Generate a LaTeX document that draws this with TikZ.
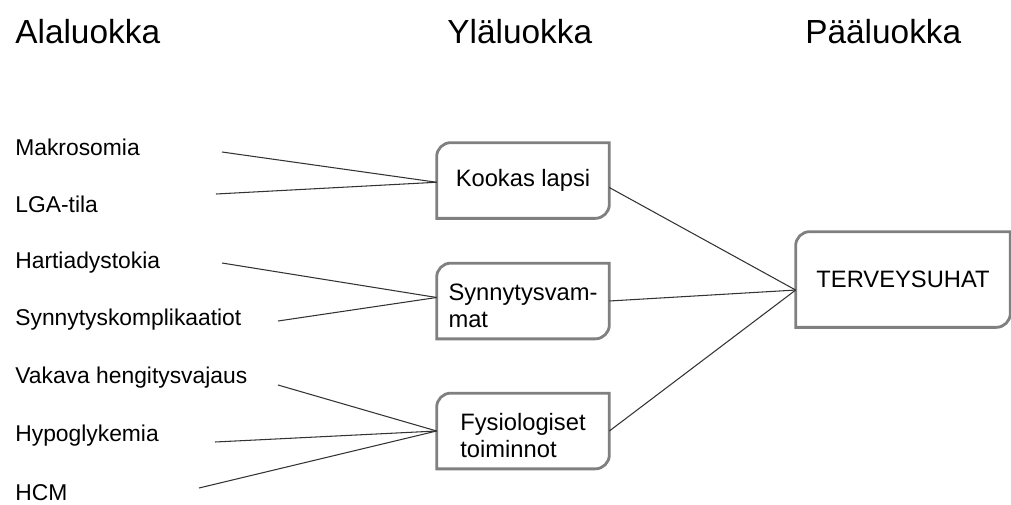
\documentclass[tikz,border=0pt]{standalone}
\usepackage{fontspec}
\setmainfont{Liberation Sans}
\usetikzlibrary{calc}
\definecolor{boxgray}{RGB}{128,128,128}
\tikzset{
  header/.style={anchor=west,inner sep=0pt,font=\fontsize{19}{23}\selectfont},
  item/.style={anchor=west,inner sep=0pt,font=\fontsize{13}{15}\selectfont},
  catbox/.style={inner sep=0pt,align=left,minimum width=3.44cm,minimum height=1.5cm,
    font=\fontsize{13.5}{15}\selectfont},
  boxline/.style={draw=boxgray,line width=1.6pt},
  link/.style={draw=black!80,line width=0.6pt}
}
% box outline: rounded top left and bottom right corners
\newcommand{\diagbox}[1]{%
  \draw[boxline] (#1.north east) -- ([xshift=8pt]#1.north west)
    arc[start angle=90,end angle=180,radius=8pt] -- (#1.south west)
    -- ([xshift=-8pt]#1.south east)
    arc[start angle=270,end angle=360,radius=8pt] -- cycle;}
% two-line text, a bit below the middle
\newcommand{\twolines}[2]{\raisebox{-8pt}[0pt][0pt]{\begin{tabular}{@{}l@{}}#1\\#2\end{tabular}}}

\begin{document}
\begin{tikzpicture}[x=0.02cm,y=-0.02cm]
  \useasboundingbox (0,0) rectangle (1011,504);

  % otsikot
  \node[header] (hala) at (15,32) {Alaluokka};
  \node[header] (hyla) at (447,32) {Yläluokka};
  \node[header] (hpaa) at (805,32) {Pääluokka};

  % alaluokat
  \node[item] (makro) at (15,147) {Makrosomia};
  \node[item] (lga) at (15,204) {LGA-tila};
  \node[item] (hartia) at (15,263) {Hartiadystokia};
  \node[item] (kompl) at (15,320) {Synnytyskomplikaatiot};
  \node[item] (vakava) at (15,378) {Vakava hengitysvajaus};
  \node[item] (hypo) at (15,436) {Hypoglykemia};
  \node[item] (hcm) at (15,493) {HCM};

  % viivojen alkupisteet
  \coordinate (makro-end) at (222,152);
  \coordinate (lga-end) at (216,194);
  \coordinate (hartia-end) at (222,263);
  \coordinate (kompl-end) at (278,321);
  \coordinate (vakava-end) at (278,385);
  \coordinate (hypo-end) at (215,442);
  \coordinate (hcm-end) at (199,488);

  % yläluokat ja pääluokka
  \node[catbox] (kookas) at (523,180.5) {Kookas lapsi};
  \node[catbox] (synny) at (523,301) {\twolines{Synnytysvam-}{mat}};
  \node[catbox] (fysio) at (523,431) {\twolines{Fysiologiset}{toiminnot}};
  \node[catbox,minimum width=4.28cm,minimum height=1.9cm] (terveys) at (903,279.5) {TERVEYSUHAT};

  \foreach \b in {kookas,synny,fysio,terveys} {\diagbox{\b}}

  % yhteydet
  \draw[link] (makro-end) -- ([yshift=-1pt]kookas.west);
  \draw[link] (lga-end) -- ([yshift=-1pt]kookas.west);
  \draw[link] (hartia-end) -- ([yshift=2pt]synny.west);
  \draw[link] (kompl-end) -- ([yshift=2pt]synny.west);
  \draw[link] (vakava-end) -- (fysio.west);
  \draw[link] (hypo-end) -- (fysio.west);
  \draw[link] (hcm-end) -- (fysio.west);
  \draw[link] ([yshift=-4pt]kookas.east) -- ([yshift=-6pt]terveys.west);
  \draw[link] (synny.east) -- ([yshift=-6pt]terveys.west);
  \draw[link] (fysio.east) -- ([yshift=-6pt]terveys.west);
\end{tikzpicture}
\end{document}
